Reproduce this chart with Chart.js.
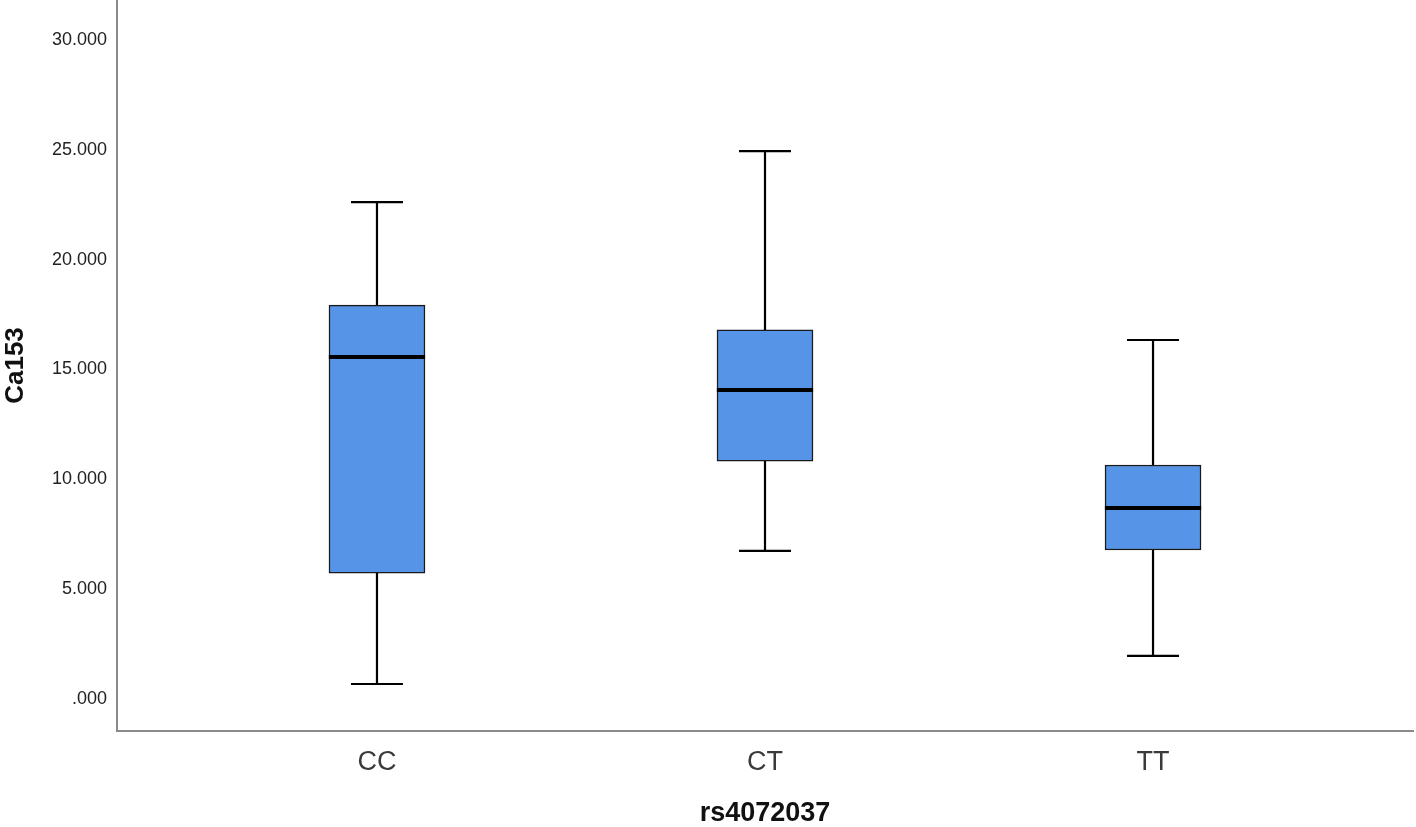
<!DOCTYPE html>
<html>
<head>
<meta charset="utf-8">
<script src="https://cdn.jsdelivr.net/npm/chart.js@4.4.1/dist/chart.umd.min.js"></script>
<style>
  html, body { margin: 0; padding: 0; background: #fff; }
  #wrap { width: 1416px; height: 827px; position: relative; }
</style>
</head>
<body>
<div id="wrap"><canvas id="myChart"></canvas></div>
<script>
// boxplot of Ca153 by rs4072037 genotype
const genotypes = ['CC', 'CT', 'TT']
const whiskerLow = [0.68, 6.74, 1.96]
const q1 = [5.73, 10.83, 6.78]
const medians = [15.57, 14.06, 8.69]
const q3 = [17.93, 16.80, 10.65]
const whiskerHigh = [22.62, 24.94, 16.34]
const yTicks = [0, 5, 10, 15, 20, 25, 30]

const capHalf = 0.067
const boxHalf = 0.124

const boxes = genotypes.map((g, i) => ({ x: i, y: [q1[i], q3[i]] }))

const whiskers = []
genotypes.forEach((g, i) => {
  whiskers.push({ x: i, y: q3[i] }, { x: i, y: whiskerHigh[i] }, { x: i, y: null })
  whiskers.push({ x: i - capHalf, y: whiskerHigh[i] }, { x: i + capHalf, y: whiskerHigh[i] }, { x: i, y: null })
  whiskers.push({ x: i, y: q1[i] }, { x: i, y: whiskerLow[i] }, { x: i, y: null })
  whiskers.push({ x: i - capHalf, y: whiskerLow[i] }, { x: i + capHalf, y: whiskerLow[i] }, { x: i, y: null })
})

const medianLines = []
genotypes.forEach((g, i) => {
  medianLines.push({ x: i - boxHalf, y: medians[i] }, { x: i + boxHalf, y: medians[i] }, { x: i, y: null })
})

const fmt = (v) => {
  const s = v.toFixed(3)
  return s.startsWith('0') ? s.slice(1) : s
}

const chart = document.getElementById('myChart')
new Chart(chart, {
  type: 'bar',
  data: {
    datasets: [
      {
        type: 'line',
        label: 'median',
        data: medianLines,
        borderColor: '#000',
        borderWidth: 4,
        pointRadius: 0,
        spanGaps: false,
        borderCapStyle: 'butt',
        order: 0
      },
      {
        type: 'line',
        label: 'whiskers',
        data: whiskers,
        borderColor: '#000',
        borderWidth: 2.2,
        pointRadius: 0,
        spanGaps: false,
        borderCapStyle: 'butt',
        order: 1
      },
      {
        type: 'bar',
        label: 'box',
        data: boxes,
        backgroundColor: '#5594e6',
        borderColor: '#1a1a1a',
        borderWidth: 1.5,
        borderSkipped: false,
        barThickness: 96,
        order: 2
      }
    ]
  },
  options: {
    responsive: true,
    maintainAspectRatio: false,
    animation: false,
    layout: { padding: { top: 0, right: 3, bottom: 0, left: 0 } },
    plugins: {
      legend: { display: false },
      tooltip: { enabled: false }
    },
    scales: {
      x: {
        type: 'linear',
        offset: false,
        min: -0.67,
        max: 2.67,
        afterBuildTicks: (s) => { s.ticks = genotypes.map((g, i) => ({ value: i })) },
        afterFit: (s) => { s.height = 96; s.paddingLeft = 0; s.paddingRight = 0 },
        grid: { display: false, drawTicks: false },
        border: { display: true, color: '#8a8a8a', width: 2 },
        ticks: {
          padding: 15,
          color: '#3a3a3a',
          font: { family: 'Liberation Sans, Arial, sans-serif', size: 27 },
          callback: (v) => genotypes[v] ?? ''
        },
        title: {
          display: true,
          text: 'rs4072037',
          color: '#111',
          padding: { top: 0, bottom: 0 },
          font: { family: 'Liberation Sans, Arial, sans-serif', size: 27, weight: 'bold', lineHeight: 1.0 }
        }
      },
      y: {
        min: -1.46,
        max: 31.82,
        afterBuildTicks: (s) => { s.ticks = yTicks.map((v) => ({ value: v })) },
        afterFit: (s) => { s.width = 117; s.paddingTop = 0; s.paddingBottom = 0 },
        grid: { display: false, drawTicks: false },
        border: { display: true, color: '#8a8a8a', width: 2 },
        ticks: {
          padding: 10,
          color: '#222',
          font: { family: 'Liberation Sans, Arial, sans-serif', size: 18 },
          callback: (v) => fmt(v)
        },
        title: {
          display: true,
          text: 'Ca153',
          color: '#111',
          padding: { top: 0, bottom: 0 },
          font: { family: 'Liberation Sans, Arial, sans-serif', size: 26, weight: 'bold' }
        }
      }
    }
  }
})
</script>
</body>
</html>
